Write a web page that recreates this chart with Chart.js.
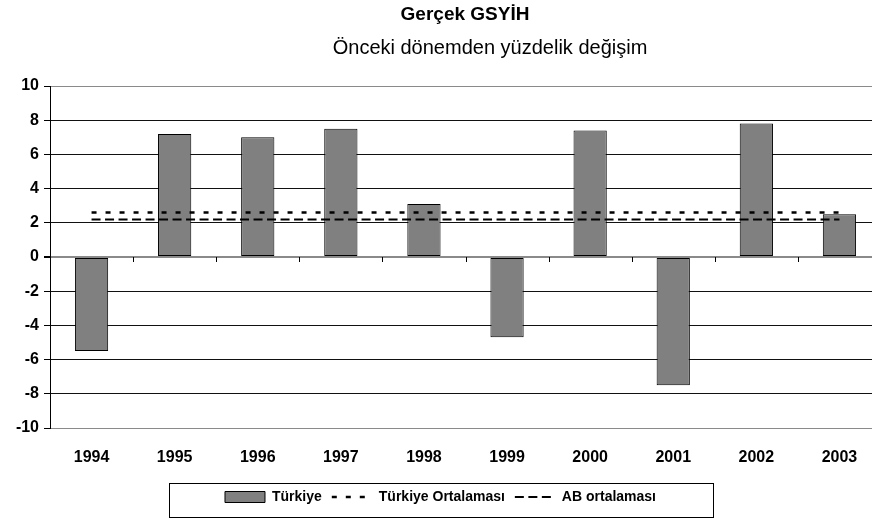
<!DOCTYPE html>
<html>
<head>
<meta charset="utf-8">
<script src="https://cdn.jsdelivr.net/npm/chart.js@4/dist/chart.umd.min.js"></script>
<style>
html,body{margin:0;padding:0;overflow:hidden;background:#fff;}
#wrap{width:882px;height:523px;position:relative;}
</style>
</head>
<body>
<div id="wrap"><canvas id="c" width="882" height="523"></canvas></div>
<script>
const categories = ['1994','1995','1996','1997','1998','1999','2000','2001','2002','2003'];
const turkiyeValues = [-5.5, 7.2, 7.0, 7.5, 3.1, -4.7, 7.4, -7.5, 7.8, 2.5];
const turkiyeAverage = [2.6, 2.6, 2.6, 2.6, 2.6, 2.6, 2.6, 2.6, 2.6, 2.6];
const abAverage = [2.2, 2.2, 2.2, 2.2, 2.2, 2.2, 2.2, 2.2, 2.2, 2.2];
const yMin = -10, yMax = 10, yStep = 2;
const seriesNames = ['Türkiye', 'Türkiye Ortalaması', 'AB ortalaması'];
const titleText = 'Gerçek GSYİH';
const subtitleText = 'Önceki dönemden yüzdelik değişim';

const FONT = '"Liberation Sans", Arial, sans-serif';

const titlePlugin = {
  id: 'titles',
  afterDraw(chart) {
    const ctx = chart.ctx;
    ctx.save();
    ctx.fillStyle = '#000';
    ctx.textAlign = 'center';
    ctx.textBaseline = 'middle';
    ctx.font = 'bold 19px ' + FONT;
    ctx.fillText(titleText, 465, 15);
    ctx.font = '20px ' + FONT;
    ctx.fillText(subtitleText, 490, 48);
    ctx.restore();
  }
};

const tickPlugin = {
  id: 'zeroTicks',
  afterDatasetsDraw(chart) {
    const x = chart.scales.x, y = chart.scales.y, ctx = chart.ctx;
    const y0 = y.getPixelForValue(0);
    ctx.save();
    ctx.strokeStyle = '#000';
    ctx.lineWidth = 1;
    for (let i = 1; i < categories.length; i++) {
      const px = Math.round((x.getPixelForValue(i - 1) + x.getPixelForValue(i)) / 2) + 0.5;
      ctx.beginPath();
      ctx.moveTo(px, y0);
      ctx.lineTo(px, y0 + 5);
      ctx.stroke();
    }
    ctx.restore();
  }
};

const legendBoxPlugin = {
  id: 'legendBox',
  afterDraw(chart) {
    const lg = chart.legend;
    if (!lg || !lg.legendHitBoxes || !lg.legendHitBoxes.length) return;
    const hb = lg.legendHitBoxes;
    let l = Infinity, r = -Infinity, t = Infinity, b = -Infinity;
    hb.forEach(h => { l = Math.min(l, h.left); r = Math.max(r, h.left + h.width); t = Math.min(t, h.top); b = Math.max(b, h.top + h.height); });
    const cx = (l + r) / 2;
    const w = 544;
    const ctx = chart.ctx;
    ctx.save();
    ctx.strokeStyle = '#000';
    ctx.lineWidth = 1;
    ctx.strokeRect(Math.round(cx - w / 2) + 0.5, Math.round(t - 7) + 0.5, w, Math.round(b - t + 20));
    ctx.restore();
  }
};

const chart = new Chart(document.getElementById('c'), {
  data: {
    labels: categories,
    datasets: [
      {
        type: 'bar',
        label: seriesNames[0],
        data: turkiyeValues,
        backgroundColor: '#808080',
        borderColor: '#000',
        borderWidth: 1,
        borderSkipped: false,
        barPercentage: 0.4,
        categoryPercentage: 1.0,
        order: 1
      },
      {
        type: 'line',
        label: seriesNames[1],
        data: turkiyeAverage,
        borderColor: '#000',
        borderWidth: 2.5,
        borderDash: [5, 9],
        pointRadius: 0,
        fill: false,
        order: 0
      },
      {
        type: 'line',
        label: seriesNames[2],
        data: abAverage,
        borderColor: '#000',
        borderWidth: 2,
        borderDash: [9, 4.5],
        pointRadius: 0,
        fill: false,
        order: 0
      }
    ]
  },
  options: {
    responsive: false,
    animation: false,
    events: [],
    layout: { padding: { top: 86, right: 1, bottom: 9, left: 0 } },
    plugins: {
      tooltip: { enabled: false },
      title: { display: false },
      legend: {
        display: true,
        position: 'bottom',
        labels: {
          font: { family: FONT, size: 14, weight: 'bold' },
          color: '#000',
          usePointStyle: true,
          pointStyleWidth: 40,
          boxHeight: 11,
          padding: 10,
          generateLabels(chart) {
            return chart.data.datasets.map((ds, i) => ({
              text: ds.label,
              datasetIndex: i,
              hidden: false,
              fontColor: '#000',
              fillStyle: ds.type === 'line' ? 'rgba(0,0,0,0)' : ds.backgroundColor,
              strokeStyle: '#000',
              lineWidth: ds.type === 'line' ? ds.borderWidth : 1,
              lineDash: ds.type === 'line' ? ds.borderDash : [],
              pointStyle: ds.type === 'line' ? 'line' : 'rect'
            }));
          }
        }
      }
    },
    scales: {
      x: {
        type: 'category',
        grid: { display: false, drawTicks: false },
        border: { display: false },
        ticks: {
          font: { family: FONT, size: 16, weight: 'bold' },
          color: '#000',
          padding: 20,
          maxRotation: 0
        },
        afterFit(s) { s.height = 52; }
      },
      y: {
        min: yMin,
        max: yMax,
        ticks: {
          stepSize: yStep,
          font: { family: FONT, size: 16, weight: 'bold' },
          color: '#000',
          padding: 5
        },
        grid: {
          color: c => (c.tick && (c.tick.value === 0 || c.tick.value === yMax || c.tick.value === yMin)) ? '#8a8a8a' : '#111',
          lineWidth: c => (c.tick && c.tick.value === 0) ? 2 : 1,
          tickColor: '#000',
          tickLength: 6,
          drawTicks: true
        },
        border: { display: true, color: '#000', width: 1 },
        afterFit(s) { s.width = 50; }
      }
    }
  },
  plugins: [titlePlugin, tickPlugin, legendBoxPlugin]
});
</script>
</body>
</html>
